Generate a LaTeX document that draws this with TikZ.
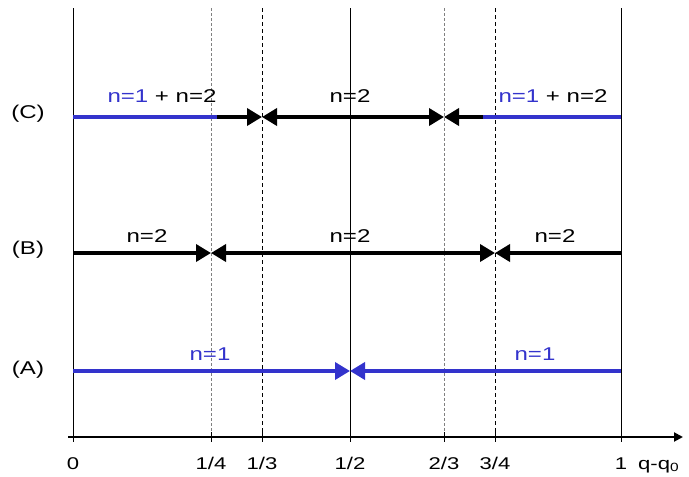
\documentclass[tikz,border=0pt]{standalone}
\usepackage{fontspec}
\usepackage{graphicx}
\setmainfont{Liberation Sans}
\usetikzlibrary{arrows.meta,calc}
\definecolor{bl}{RGB}{51,51,204}
\newcommand{\stx}[1]{\scalebox{1.3}[1]{#1}}
\begin{document}
\begin{tikzpicture}[x=1pt,y=-1pt,
  lbl/.style={font=\fontsize{18.5}{22}\selectfont,inner sep=0pt},
  ax/.style={font=\fontsize{17}{20}\selectfont,inner sep=0pt,anchor=base},
  thick4/.style={line width=3.6pt},
  tip/.style={-{Triangle[length=15pt,width=17pt]}},
  dtip/.style={{Triangle[length=15pt,width=17pt]}-{Triangle[length=15pt,width=17pt]}},
  gline/.style={gray,line width=0.6pt,dash pattern=on 3pt off 2pt},
  kline/.style={black,line width=0.6pt,dash pattern=on 4pt off 3pt},
  sline/.style={black,line width=0.7pt}]
\useasboundingbox (0,0) rectangle (689,477);
% vertical guide lines
\coordinate (t0) at (73,8);   \coordinate (b0) at (73,437);
\coordinate (t14) at (211,8); \coordinate (b14) at (211,437);
\coordinate (t13) at (262,8); \coordinate (b13) at (262,437);
\coordinate (t12) at (350,8); \coordinate (b12) at (350,437);
\coordinate (t23) at (444,8); \coordinate (b23) at (444,437);
\coordinate (t34) at (495,8); \coordinate (b34) at (495,437);
\coordinate (t1) at (621,8);  \coordinate (b1) at (621,437);
\draw[sline] (t0) -- (b0);
\draw[gline] (t14) -- (b14);
\draw[kline] (t13) -- (b13);
\draw[sline] (t12) -- (b12);
\draw[gline] (t23) -- (b23);
\draw[kline] (t34) -- (b34);
\draw[sline] (t1) -- (b1);
% axis
\coordinate (axs) at (68,437);
\coordinate (axe) at (683,437);
\draw[line width=2pt,-{Triangle[length=9pt,width=9pt]}] (axs) -- (axe);
\foreach \c in {b0,b14,b13,b12,b23,b34,b1}{
  \draw[line width=1pt] ($(\c)+(0,-5)$) -- ($(\c)+(0,5)$);
}
\node[ax] (l0) at (73,469) {\stx{0}};
\node[ax] (l14) at (211,469) {\stx{1/4}};
\node[ax] (l13) at (262,469) {\stx{1/3}};
\node[ax] (l12) at (350,469) {\stx{1/2}};
\node[ax] (l23) at (444,469) {\stx{2/3}};
\node[ax] (l34) at (495,469) {\stx{3/4}};
\node[ax] (l1) at (621,469) {\stx{1}};
\node[ax,anchor=base west] (lq) at (638,469) {\stx{q-q\textsubscript{0}}};
% row labels
\node[lbl] (C) at (28,114) {\stx{(C)}};
\node[lbl] (B) at (28,250) {\stx{(B)}};
\node[lbl] (A) at (28,370) {\stx{(A)}};
% row C
\coordinate (c0) at (73,117);
\coordinate (c14) at (217,117);
\coordinate (c13) at (262,117);
\coordinate (c23) at (444,117);
\coordinate (c34) at (483,117);
\coordinate (c1) at (621,117);
\draw[thick4,bl] (c0) -- (c14);
\draw[thick4,tip] (c14) -- (c13);
\draw[thick4,dtip] (c13) -- (c23);
\draw[thick4,tip] (c34) -- (c23);
\draw[thick4,bl] (c34) -- (c1);
\node[lbl] (cl1) at (162,96) {\stx{\textcolor{bl}{n=1} + n=2}};
\node[lbl] (cl2) at (350,96) {\stx{n=2}};
\node[lbl] (cl3) at (553,96) {\stx{\textcolor{bl}{n=1} + n=2}};
% row B
\coordinate (bb0) at (73,253);
\coordinate (bb14) at (211,253);
\coordinate (bb34) at (495,253);
\coordinate (bb1) at (621,253);
\draw[thick4,tip] (bb0) -- (bb14);
\draw[thick4,dtip] (bb14) -- (bb34);
\draw[thick4,tip] (bb1) -- (bb34);
\node[lbl] (bl1) at (147,236) {\stx{n=2}};
\node[lbl] (bl2) at (350,236) {\stx{n=2}};
\node[lbl] (bl3) at (555,236) {\stx{n=2}};
% row A
\coordinate (a0) at (73,371);
\coordinate (a12) at (350,371);
\coordinate (a1) at (621,371);
\draw[thick4,bl,tip] (a0) -- (a12);
\draw[thick4,bl,tip] (a1) -- (a12);
\node[lbl,bl] (al1) at (210,354) {\stx{n=1}};
\node[lbl,bl] (al2) at (535,354) {\stx{n=1}};
\end{tikzpicture}
\end{document}
